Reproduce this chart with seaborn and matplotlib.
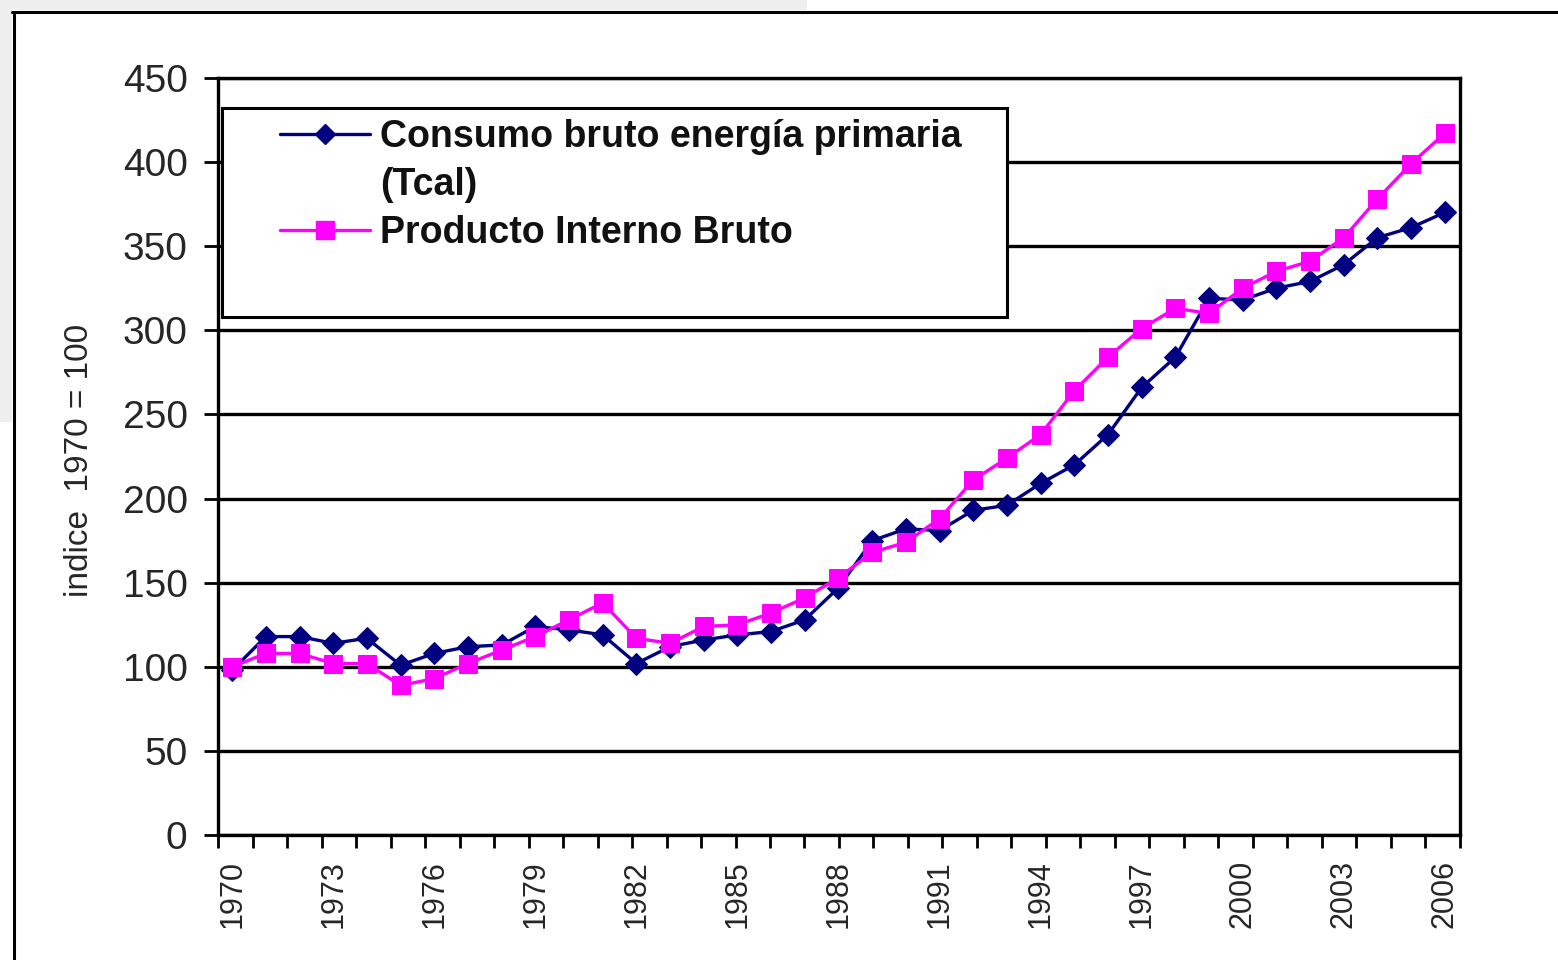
import numpy as np
import pandas as pd
import matplotlib
matplotlib.use('Agg')
import matplotlib.pyplot as plt
from matplotlib.lines import Line2D
from matplotlib.patches import Rectangle
import seaborn as sns

# values (index 1970 = 100)
years = list(range(1970, 2007))
energia = [98, 118, 118, 114, 117, 101, 108, 112, 113, 124,
           122, 119, 102, 112, 116, 119, 121, 128, 147, 175,
           182, 181, 193, 196, 209, 220, 238, 266, 284, 319,
           318, 325, 329, 339, 355, 361, 370]
pib = [100, 108, 108, 102, 102, 89, 93, 102, 110, 118,
       128, 138, 117, 114, 124, 125, 132, 141, 153, 168,
       174, 188, 211, 224, 238, 264, 284, 301, 313, 310,
       325, 335, 341, 355, 378, 399, 417]
year_labels = list(range(1970, 2007, 3))
y_ticks = list(range(0, 451, 50))

label_energia = 'Consumo bruto energía primaria'
label_energia_2 = '(Tcal)'
label_pib = 'Producto Interno Bruto'

BLUE = '#000080'
MAGENTA = '#FF00FF'

df = pd.DataFrame({'year': years, 'energia': energia, 'pib': pib})

sns.set_style('white')
plt.rcParams['font.family'] = ['Liberation Sans', 'DejaVu Sans']

fig = plt.figure(figsize=(15.58, 9.6), dpi=100)
ax = fig.add_axes([0.140, 0.130, 0.797, 0.789])

# light screenshot artefacts and outer frame
fig.patches.append(Rectangle((0, 0.56), 0.008, 0.44, transform=fig.transFigure,
                             facecolor='#eeeeee', edgecolor='none', zorder=0))
fig.patches.append(Rectangle((0.008, 0.99), 0.51, 0.01, transform=fig.transFigure,
                             facecolor='#eeeeee', edgecolor='none', zorder=0))
fig.lines.append(Line2D([0.009, 0.009], [0.0, 0.987], transform=fig.transFigure,
                        color='black', lw=2.2))
fig.lines.append(Line2D([0.008, 1.0], [0.987, 0.987], transform=fig.transFigure,
                        color='black', lw=2.2))

sns.lineplot(data=df, x='year', y='energia', ax=ax, color=BLUE, marker='D',
             markersize=11.5, markeredgecolor=BLUE, linewidth=2.4, zorder=3)
sns.lineplot(data=df, x='year', y='pib', ax=ax, color=MAGENTA, marker='s',
             markersize=13.5, markeredgecolor=MAGENTA, linewidth=2.4, zorder=4)

xmin, xmax = 1969.584, 2006.445
ax.set_xlim(xmin, xmax)
ax.set_ylim(0, 450)

ax.set_yticks(y_ticks)
ax.set_yticklabels([str(v) for v in y_ticks], fontsize=28)
ax.tick_params(axis='y', direction='out', length=10, width=2, pad=12,
               left=True, color='black')

ax.set_xticks(year_labels)
ax.set_xticklabels([str(y) for y in year_labels], rotation=90, fontsize=22)
ax.set_xticks(np.linspace(xmin, xmax, 37), minor=True)
ax.tick_params(axis='x', which='major', length=0, pad=18)
ax.tick_params(axis='x', which='minor', direction='out', length=9, width=2,
               bottom=True, color='black')

ax.grid(axis='y', color='black', linewidth=2.4)
ax.set_axisbelow(True)
for side in ['left', 'right', 'top', 'bottom']:
    ax.spines[side].set_visible(True)
    ax.spines[side].set_color('black')
    ax.spines[side].set_linewidth(2.4)

ax.set_xlabel('')
ax.set_ylabel('indice  1970 = 100', fontsize=24)
ax.yaxis.set_label_coords(-0.099, 0.495)

# legend box
ax.add_patch(Rectangle((0.003, 0.684), 0.632, 0.276, transform=ax.transAxes,
                       facecolor='white', edgecolor='black', linewidth=2.2,
                       zorder=5))
handles = [
    Line2D([], [], color=BLUE, marker='D', markersize=10, lw=2.4),
    Line2D([], [], color='none', lw=0),
    Line2D([], [], color=MAGENTA, marker='s', markersize=13, lw=2.4),
]
leg = ax.legend(handles, [label_energia, label_energia_2, label_pib],
                loc='upper left', bbox_to_anchor=(0.050, 0.946),
                frameon=False, prop={'size': 27, 'weight': 'bold'},
                handlelength=2.4, handletextpad=0.27, labelspacing=0.33,
                borderaxespad=0, borderpad=0)
leg.set_zorder(6)
for t in leg.get_texts():
    t.set_color('#111111')

fig.savefig('out.png', dpi=100)
